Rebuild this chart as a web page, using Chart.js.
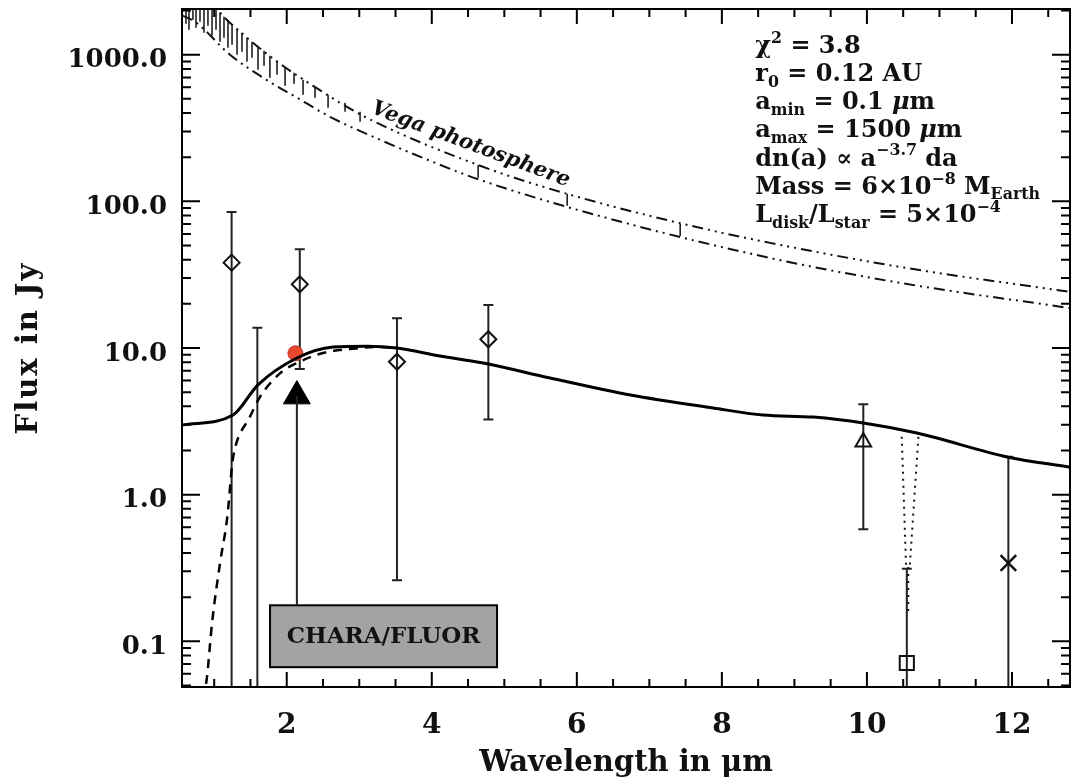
<!DOCTYPE html>
<html>
<head>
<meta charset="utf-8">
<script src="https://cdn.jsdelivr.net/npm/chart.js@4.4.0/dist/chart.umd.min.js"></script>
<style>
  html, body { margin: 0; padding: 0; background: #fff; }
  #sed_div { width: 1071px; height: 784px; }
</style>
</head>
<body>
<div id="sed_div"><canvas id="sed_cnv" width="1071" height="784"></canvas></div>
<script>
// ---- values (wavelength in micron, flux in Jy) ----

// Vega photosphere models
const vega_upper_wl = [0.56, 0.80, 1.080, 1.452, 1.908, 2.363, 3.052, 4.666, 5.866, 7.466, 8.666, 10.459, 12.804];
const vega_upper_flux = [4600, 2900, 1935, 1306, 868, 614, 383, 175, 112.5, 70.2, 52.1, 35.7, 24.1];
const vega_lower_wl = [0.56, 0.735, 1.218, 1.673, 2.142, 2.597, 3.287, 3.977, 4.666, 6.459, 8.666, 10.459, 12.804];
const vega_lower_flux = [1850, 1679, 1000, 697, 509, 377, 263, 189, 140, 76, 41.1, 27.8, 18.7];

// absorption lines hanging off the upper photosphere
const spike_wl = [0.611, 0.652, 0.707, 0.749, 0.804, 0.859, 0.914, 0.970, 1.025, 1.080, 1.135, 1.190, 1.246,
    1.315, 1.383, 1.452, 1.521, 1.604, 1.687, 1.768, 1.866, 1.977, 2.101, 2.225, 2.390, 2.570, 2.804, 3.011,
    4.639, 5.867, 7.425];
const spike_top = [3000, 3000, 3000, 3000, 3000, 3000, 3000, 3000, 3000, 1935, 1817, 1707, 1603,
    1505, 1413, 1306, 1227, 1134, 1065, 985, 910, 828, 754, 675, 595, 533, 470, 408,
    177, 112.5, 70.2];
const spike_bot = [1628, 1481, 1734, 1529, 1680, 1413, 1577, 1348, 1481, 1227, 1306, 1116, 1170,
    1000, 1048, 896, 954, 790, 841, 697, 731, 614, 634, 533, 509, 435, 408, 349,
    145, 93.2, 58.1];

// disk model (solid) and model without the hot component (dashed)
const model_wl = [0.56, 1.26, 1.60, 2.14, 2.64, 3.11, 3.52, 4.11, 4.71, 5.63, 6.74, 7.88, 8.57, 9.26, 9.95, 10.69, 11.95, 12.80];
const model_flux = [2.98, 3.49, 5.59, 8.55, 10.16, 10.3, 10.0, 8.82, 7.9, 6.24, 4.78, 3.9, 3.49, 3.38, 3.08, 2.63, 1.80, 1.54];
const model2_wl = [0.85, 0.90, 0.97, 1.08, 1.18, 1.25, 1.29, 1.49, 1.63, 1.91, 2.14, 2.50, 2.87, 3.29, 3.52];
const model2_flux = [0.040, 0.0568, 0.133, 0.34, 0.70, 1.64, 2.11, 3.38, 4.63, 6.74, 7.9, 9.24, 9.84, 10.16, 10.0];

// photometry with error bars (lo = null: bar runs off the bottom)
const diamond_wl = [1.24, 2.18, 3.52, 4.78];
const diamond_flux = [38.2, 27.2, 8.06, 11.47];
const diamond_hi = [84.7, 47.2, 15.95, 19.65];
const diamond_lo = [null, 7.2, 0.261, 3.26];

const bar_only_wl = [1.595];
const bar_only_hi = [13.76];
const bar_only_lo = [null];

const tri_wl = [9.95];
const tri_flux = [2.29];
const tri_hi = [4.13];
const tri_lo = [0.581];

const square_wl = [10.55];
const square_flux = [0.0711];
const square_hi = [0.313];
const square_lo = [null];

const cross_wl = [11.95];
const cross_flux = [0.342];
const cross_hi = [1.81];
const cross_lo = [null];

// CHARA/FLUOR point and its label
const chara_wl = [2.12];
const chara_flux = [9.2];
const arrow_wl = [2.14, 2.14];
const arrow_flux = [4.7, 0.176];
const chara_box_wl = [1.77, 4.90];
const chara_box_flux = [0.0666, 0.176];

// dotted cone on the 10.6 micron point
const cone_left_wl = [10.48, 10.54];
const cone_right_wl = [10.71, 10.59];
const cone_flux = [2.48, 0.321];
const cone_tail_wl = [10.57, 10.57];
const cone_tail_flux = [0.321, 0.155];

// axes
const x_range = [0.556, 12.8];
const y_range = [0.0488, 2050];
const x_tick_labels = [2, 4, 6, 8, 10, 12];
const y_tick_labels = [0.1, 1, 10, 100, 1000];

const fit_lines = [
    [{t: "χ"}, {t: "2", sup: true}, {t: " = 3.8"}],
    [{t: "r"}, {t: "0", sub: true}, {t: " = 0.12 AU"}],
    [{t: "a"}, {t: "min", sub: true}, {t: " = 0.1 "}, {t: "μ", it: true}, {t: "m"}],
    [{t: "a"}, {t: "max", sub: true}, {t: " = 1500 "}, {t: "μ", it: true}, {t: "m"}],
    [{t: "dn(a) ∝ a"}, {t: "−3.7", sup: true}, {t: " da"}],
    [{t: "Mass = 6×10"}, {t: "−8", sup: true}, {t: " M"}, {t: "Earth", sub: true}],
    [{t: "L"}, {t: "disk", sub: true}, {t: "/L"}, {t: "star", sub: true}, {t: " = 5×10"}, {t: "−4", sup: true}]
];

const FONT = "'DejaVu Serif', serif";

function pts(xs, ys) {
    return xs.map(function (v, i) { return {x: v, y: ys[i]}; });
}

function draw_rich(ctx, x, y, parts, size) {
    parts.forEach(function (p) {
        let s = (p.sub || p.sup) ? size * 0.66 : size;
        let dy = p.sup ? -size * 0.42 : (p.sub ? size * 0.24 : 0);
        ctx.font = (p.it ? "italic " : "") + "bold " + s + "px " + FONT;
        ctx.fillText(p.t, x, y + dy);
        x += ctx.measureText(p.t).width;
    });
}

const error_bars = [
    [diamond_wl, diamond_hi, diamond_lo],
    [bar_only_wl, bar_only_hi, bar_only_lo],
    [tri_wl, tri_hi, tri_lo],
    [square_wl, square_hi, square_lo],
    [cross_wl, cross_hi, cross_lo]
];

const sed_plugin = {
    id: "sed_plugin",
    beforeDatasetsDraw: function (chart) {
        const ctx = chart.ctx, a = chart.chartArea;
        const xs = chart.scales.x, ys = chart.scales.y;
        ctx.save();
        ctx.beginPath();
        ctx.rect(a.left, a.top, a.right - a.left, a.bottom - a.top);
        ctx.clip();

        // absorption lines
        ctx.strokeStyle = "#111";
        ctx.lineWidth = 1.5;
        spike_wl.forEach(function (w, i) {
            let px = xs.getPixelForValue(w);
            ctx.beginPath();
            ctx.moveTo(px, ys.getPixelForValue(spike_top[i]));
            ctx.lineTo(px, ys.getPixelForValue(spike_bot[i]));
            ctx.stroke();
        });

        // error bars
        ctx.strokeStyle = "#222";
        ctx.lineWidth = 2;
        error_bars.forEach(function (set) {
            set[0].forEach(function (w, i) {
                let px = xs.getPixelForValue(w);
                let top = ys.getPixelForValue(set[1][i]);
                let bot = set[2][i] === null ? a.bottom + 2 : ys.getPixelForValue(set[2][i]);
                ctx.beginPath();
                ctx.moveTo(px, top);
                ctx.lineTo(px, bot);
                ctx.moveTo(px - 5, top);
                ctx.lineTo(px + 5, top);
                if (set[2][i] !== null) {
                    ctx.moveTo(px - 5, bot);
                    ctx.lineTo(px + 5, bot);
                }
                ctx.stroke();
            });
        });

        // CHARA/FLUOR box
        let bx0 = xs.getPixelForValue(chara_box_wl[0]), bx1 = xs.getPixelForValue(chara_box_wl[1]);
        let by0 = ys.getPixelForValue(chara_box_flux[1]), by1 = ys.getPixelForValue(chara_box_flux[0]);
        ctx.fillStyle = "#a3a3a3";
        ctx.fillRect(bx0, by0, bx1 - bx0, by1 - by0);
        ctx.strokeStyle = "#000";
        ctx.lineWidth = 2;
        ctx.strokeRect(bx0, by0, bx1 - bx0, by1 - by0);
        ctx.fillStyle = "#111";
        ctx.font = "bold 23px " + FONT;
        ctx.textAlign = "center";
        ctx.textBaseline = "middle";
        ctx.fillText("CHARA/FLUOR", (bx0 + bx1) / 2, (by0 + by1) / 2 + 1);
        ctx.restore();
    },
    afterDraw: function (chart) {
        const ctx = chart.ctx, a = chart.chartArea;
        const xs = chart.scales.x, ys = chart.scales.y;
        ctx.save();
        ctx.strokeStyle = "#000";
        ctx.lineWidth = 2;
        ctx.strokeRect(a.left, a.top, a.right - a.left, a.bottom - a.top);

        ctx.beginPath();
        // x ticks, inward on bottom and top
        for (let v = 1; v <= 12.5; v += 0.5) {
            let px = xs.getPixelForValue(v);
            let len = (v % 2 === 0) ? 15 : 8;
            ctx.moveTo(px, a.bottom);
            ctx.lineTo(px, a.bottom - len);
            ctx.moveTo(px, a.top);
            ctx.lineTo(px, a.top + len);
        }
        // y ticks, inward on left and right
        [0.01, 0.1, 1, 10, 100, 1000].forEach(function (d) {
            for (let m = 1; m <= 9; m++) {
                let v = d * m;
                if (v < y_range[0] || v > y_range[1]) continue;
                let py = ys.getPixelForValue(v);
                let len = (m === 1) ? 18 : 9;
                ctx.moveTo(a.left, py);
                ctx.lineTo(a.left + len, py);
                ctx.moveTo(a.right, py);
                ctx.lineTo(a.right - len, py);
            }
        });
        ctx.stroke();

        // tick labels
        ctx.fillStyle = "#111";
        ctx.textBaseline = "alphabetic";
        ctx.font = "bold 26px " + FONT;
        ctx.textAlign = "right";
        y_tick_labels.forEach(function (v) {
            ctx.fillText(v.toFixed(1), a.left - 15, ys.getPixelForValue(v) + 12.5);
        });
        ctx.font = "bold 28px " + FONT;
        ctx.textAlign = "center";
        x_tick_labels.forEach(function (v) {
            ctx.fillText(String(v), xs.getPixelForValue(v), a.bottom + 46);
        });

        // axis titles
        ctx.font = "bold 29px " + FONT;
        ctx.fillText("Wavelength in μm", (a.left + a.right) / 2, 771);
        ctx.save();
        ctx.translate(37, (a.top + a.bottom) / 2);
        ctx.rotate(-Math.PI / 2);
        ctx.letterSpacing = "2px";
        ctx.fillText("Flux in Jy", 0, 0);
        ctx.restore();

        // label on the photosphere
        ctx.save();
        ctx.translate(xs.getPixelForValue(4.51), ys.getPixelForValue(225));
        ctx.rotate(20.5 * Math.PI / 180);
        ctx.font = "italic bold 21px " + FONT;
        ctx.textAlign = "center";
        ctx.fillText("Vega photosphere", 0, 0);
        ctx.restore();

        // fit parameters
        ctx.textAlign = "left";
        let tx = xs.getPixelForValue(8.46), ty = ys.getPixelForValue(1032);
        fit_lines.forEach(function (line, i) {
            draw_rich(ctx, tx, ty + i * 28.2, line, 24);
        });
        ctx.restore();
    }
};

const sed_chart = new Chart(document.getElementById("sed_cnv").getContext("2d"), {
    type: "scatter",
    data: {
        datasets: [
            {data: pts(vega_upper_wl, vega_upper_flux), showLine: true, borderColor: "#111", borderWidth: 2,
                borderDash: [11, 5, 2, 5, 2, 5, 2, 5], pointRadius: 0, cubicInterpolationMode: "monotone"},
            {data: pts(vega_lower_wl, vega_lower_flux), showLine: true, borderColor: "#111", borderWidth: 2,
                borderDash: [11, 5, 2, 5, 2, 5], pointRadius: 0, cubicInterpolationMode: "monotone"},
            {data: pts(model_wl, model_flux), showLine: true, borderColor: "#000", borderWidth: 3,
                pointRadius: 0, cubicInterpolationMode: "monotone"},
            {data: pts(model2_wl, model2_flux), showLine: true, borderColor: "#000", borderWidth: 2.5,
                borderDash: [9, 7], pointRadius: 0, cubicInterpolationMode: "monotone"},
            {data: pts(cone_left_wl, cone_flux), showLine: true, borderColor: "#111", borderWidth: 2,
                borderDash: [2, 5], pointRadius: 0},
            {data: pts(cone_right_wl, cone_flux), showLine: true, borderColor: "#111", borderWidth: 2,
                borderDash: [2, 5], pointRadius: 0},
            {data: pts(cone_tail_wl, cone_tail_flux), showLine: true, borderColor: "#111", borderWidth: 2,
                borderDash: [2, 5], pointRadius: 0},
            {data: pts(arrow_wl, arrow_flux), showLine: true, borderColor: "#222", borderWidth: 2, pointRadius: 0},
            {data: pts(diamond_wl, diamond_flux), pointStyle: "rectRot", pointRadius: 8, borderWidth: 2,
                borderColor: "#111", backgroundColor: "rgba(255,255,255,0)"},
            {data: pts(tri_wl, tri_flux), pointStyle: "triangle", pointRadius: 9, borderWidth: 2,
                borderColor: "#111", backgroundColor: "rgba(255,255,255,0)"},
            {data: pts(square_wl, square_flux), pointStyle: "rect", pointRadius: 10, borderWidth: 2,
                borderColor: "#111", backgroundColor: "rgba(255,255,255,0)"},
            {data: pts(cross_wl, cross_flux), pointStyle: "crossRot", pointRadius: 11, borderWidth: 2.5,
                borderColor: "#111"},
            {data: pts(arrow_wl.slice(0, 1), arrow_flux.slice(0, 1)), pointStyle: "triangle", pointRadius: 15.5,
                borderWidth: 1, borderColor: "#000", backgroundColor: "#000"},
            {data: pts(chara_wl, chara_flux), pointStyle: "circle", pointRadius: 7.5, borderWidth: 1,
                borderColor: "#b83220", backgroundColor: "#e8482e"}
        ]
    },
    options: {
        responsive: false,
        devicePixelRatio: 1,
        animation: false,
        layout: {"autoPadding": false, "padding": {"top": 9, "right": 1, "left": 0, "bottom": 0}},
        plugins: {legend: {display: false}, tooltip: {enabled: false}},
        scales: {
            x: {
                type: "linear",
                min: x_range[0],
                max: x_range[1],
                grid: {display: false, drawTicks: false},
                border: {display: false},
                ticks: {display: false},
                afterBuildTicks: function (scale) {
                    scale.ticks = x_tick_labels.map(function (v) { return {value: v}; });
                },
                afterFit: function (scale) { scale.height = 97; }
            },
            y: {
                type: "logarithmic",
                min: y_range[0],
                max: y_range[1],
                grid: {display: false, drawTicks: false},
                border: {display: false},
                ticks: {display: false},
                afterBuildTicks: function (scale) {
                    scale.ticks = y_tick_labels.map(function (v) { return {value: v}; });
                },
                afterFit: function (scale) { scale.width = 182; }
            }
        }
    },
    plugins: [sed_plugin]
});
</script>
</body>
</html>
